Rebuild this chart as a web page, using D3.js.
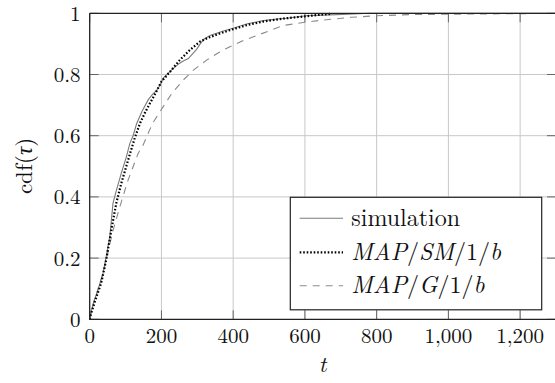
<!DOCTYPE html>
<head>
  <meta charset="utf-8">
  <title>cdf</title>
  <script src="https://cdn.jsdelivr.net/npm/d3@7/dist/d3.min.js"></script>
  <style>
    body{ margin:0; background:#fff; }
  </style>
</head>
<body>
<div id="chart"></div>
<script>
// values
const xTicks = [0, 200, 400, 600, 800, 1000, 1200];
const yTicks = [0, 0.2, 0.4, 0.6, 0.8, 1];

const simT   = [0, 3, 12, 23, 37, 46, 56, 65, 74, 88, 102, 112, 121, 131, 146, 163, 175, 187, 196, 205, 220, 233, 251, 262, 275, 298, 311, 321, 337, 354, 375, 400, 437, 484, 530, 549, 604, 669, 720, 780, 900, 1100, 1300];
const simCdf = [0, .02, .06, .096, .15, .205, .27, .38, .42, .477, .53, .575, .6, .64, .68, .717, .735, .749, .765, .788, .805, .82, .837, .845, .852, .882, .905, .918, .928, .935, .943, .951, .965, .976, .982, .984, .992, .995, .997, 1, 1, 1, 1];

const smT   = [0, 3, 15, 32, 46, 60, 74, 88, 107, 112, 125, 140, 154, 168, 184, 200, 224, 251, 279, 307, 326, 360, 391, 440, 484, 549, 600, 640, 670];
const smCdf = [0, .015, .06, .118, .194, .29, .379, .444, .52, .54, .59, .64, .675, .706, .74, .777, .809, .847, .88, .907, .918, .933, .945, .962, .973, .984, .99, .995, .998];

const gT   = [0, 10, 37, 65, 84, 107, 135, 149, 175, 205, 230, 261, 290, 326, 360, 391, 430, 465, 539, 600, 660, 730, 800, 900, 1000, 1100, 1200, 1300];
const gCdf = [0, .05, .15, .29, .368, .455, .542, .57, .64, .695, .74, .782, .815, .847, .872, .891, .912, .927, .96, .971, .979, .987, .992, .996, .997, .998, .999, .9995];

const seriesNames = ['simulation', 'MAP/SM/1/b', 'MAP/G/1/b'];

const width = 555, height = 383;
const margin = { left: 89.7, top: 13.3, right: 0, bottom: 63.7 };
const serif = '"Latin Modern Roman", "CMU Serif", "Liberation Serif", "DejaVu Serif", "Noto Serif", "Nimbus Roman", "FreeSerif", Tinos, Times, serif';

const x = d3.scaleLinear().domain([0, 1300]).range([margin.left, 556]);
const y = d3.scaleLinear().domain([0, 1]).range([height - margin.bottom, margin.top]);

const svg = d3.select('#chart').append('svg')
  .attr('width', width)
  .attr('height', height)
  .style('font-family', serif);

// grid
svg.append('g').selectAll('line').data(xTicks.slice(1)).enter().append('line')
  .attr('x1', d => x(d)).attr('x2', d => x(d))
  .attr('y1', y(0)).attr('y2', y(1))
  .attr('stroke', '#c8c8c8').attr('stroke-width', 1);
svg.append('g').selectAll('line').data(yTicks.slice(1, -1)).enter().append('line')
  .attr('x1', x(0)).attr('x2', x(1300))
  .attr('y1', d => y(d)).attr('y2', d => y(d))
  .attr('stroke', '#c8c8c8').attr('stroke-width', 1);

// inward ticks on all four sides
const tickLen = 9;
const ticks = svg.append('g').attr('stroke', '#666').attr('stroke-width', 1);
xTicks.forEach(t => {
  ticks.append('line').attr('x1', x(t)).attr('x2', x(t)).attr('y1', y(0)).attr('y2', y(0) - tickLen);
  ticks.append('line').attr('x1', x(t)).attr('x2', x(t)).attr('y1', y(1)).attr('y2', y(1) + tickLen);
});
yTicks.forEach(v => {
  ticks.append('line').attr('x1', x(0)).attr('x2', x(0) + tickLen).attr('y1', y(v)).attr('y2', y(v));
  ticks.append('line').attr('x1', x(1300)).attr('x2', x(1300) - tickLen).attr('y1', y(v)).attr('y2', y(v));
});

// curves
const line = d3.line().x(d => x(d[0])).y(d => y(d[1]));
svg.append('clipPath').attr('id', 'clip').append('rect')
  .attr('x', x(0)).attr('y', y(1) - 2).attr('width', x(1300) - x(0)).attr('height', y(0) - y(1) + 2);
const plot = svg.append('g').attr('clip-path', 'url(#clip)');

plot.append('path').datum(d3.zip(gT, gCdf))
  .attr('d', line).attr('fill', 'none')
  .attr('stroke', '#8a8a8a').attr('stroke-width', 1.1).attr('stroke-dasharray', '7,6');
plot.append('path').datum(d3.zip(simT, simCdf))
  .attr('d', line).attr('fill', 'none')
  .attr('stroke', '#7a7a7a').attr('stroke-width', 1.1);
plot.append('path').datum(d3.zip(smT, smCdf))
  .attr('d', line).attr('fill', 'none')
  .attr('stroke', '#000').attr('stroke-width', 2.2).attr('stroke-dasharray', '1.6,1.9');

// frame
svg.append('path')
  .attr('d', `M${x(0)},${y(1)}H${x(1300)}M${x(0)},${y(1)}V${y(0)}H${x(1300)}`)
  .attr('fill', 'none').attr('stroke', '#222').attr('stroke-width', 1.3);

// tick labels
svg.append('g').selectAll('text').data(xTicks).enter().append('text')
  .attr('x', d => x(d)).attr('y', 343)
  .attr('text-anchor', 'middle').attr('font-size', 21).attr('fill', '#111')
  .text(d => d3.format(',')(d));
svg.append('g').selectAll('text').data(yTicks).enter().append('text')
  .attr('x', 80.5).attr('y', d => y(d) + 7.5)
  .attr('text-anchor', 'end').attr('font-size', 21).attr('fill', '#111')
  .text(d => d);

// axis labels
svg.append('text').attr('x', 322.5).attr('y', 372)
  .attr('text-anchor', 'middle').attr('font-size', 23).attr('font-style', 'italic').attr('fill', '#111')
  .text('t');
const yl = svg.append('text')
  .attr('transform', 'translate(32,166) rotate(-90)')
  .attr('text-anchor', 'middle').attr('font-size', 23).attr('fill', '#111');
yl.append('tspan').text('cdf(');
yl.append('tspan').attr('font-style', 'italic').text('τ');
yl.append('tspan').text(')');

// legend
const lg = svg.append('g');
lg.append('rect').attr('x', 290.3).attr('y', 197.3).attr('width', 251.4).attr('height', 112.5)
  .attr('fill', '#fff').attr('stroke', '#222').attr('stroke-width', 1.2);
const rowY = [218.3, 252.3, 285.7];
const styles = [
  { c: '#7a7a7a', w: 1.1, dash: null },
  { c: '#000', w: 2.2, dash: '1.6,1.9' },
  { c: '#8a8a8a', w: 1.1, dash: '7,6' }
];
rowY.forEach((ry, i) => {
  lg.append('line').attr('x1', 299.7).attr('x2', 343).attr('y1', ry).attr('y2', ry)
    .attr('stroke', styles[i].c).attr('stroke-width', styles[i].w)
    .attr('stroke-dasharray', styles[i].dash);
  const tx = lg.append('text').attr('x', 351.3).attr('y', ry + 7.5)
    .attr('font-size', 24).attr('fill', '#111');
  if (i === 0) {
    tx.text(seriesNames[0]);
  } else {
    // italic letters, upright slashes and digits
    seriesNames[i].split(/(\/|1)/).filter(s => s.length).forEach(s => {
      const isUp = s === '/' || s === '1';
      tx.append('tspan').attr('font-style', isUp ? 'normal' : 'italic').text(s);
    });
  }
});
</script>
</body>
